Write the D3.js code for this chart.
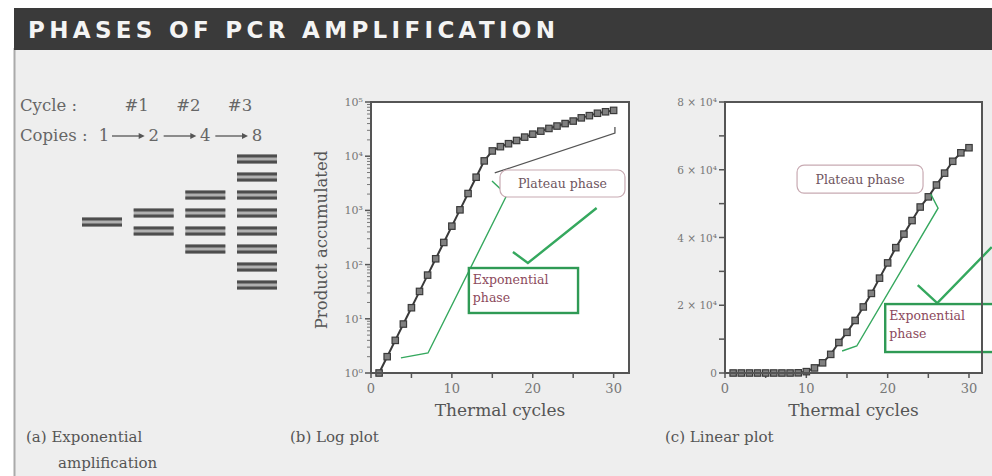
<!DOCTYPE html>
<meta charset="utf-8">
<style>
body { margin: 0; background: #fff; }
svg { display: block; }
.serif { font-family: "DejaVu Serif", serif; }
.tick-lab { font-family: "DejaVu Serif", serif; fill: #777; }
</style>
<svg width="992" height="476"></svg>
<script src="https://d3js.org/d3.v7.min.js"></script>
<script>
// values
var cycles = d3.range(1, 31);
var logProduct = [1, 2, 4, 8, 16, 32, 64, 128, 256, 512, 1024, 2048, 4096, 8192,
  12500, 15000, 17000, 19500, 22500, 25500, 29000, 32500, 36000, 40000,
  44500, 51000, 56000, 62000, 66000, 70000];
var linProduct = [0, 0, 0, 0, 0, 0, 0, 0, 50, 400, 1500, 3000, 5500, 9000, 12000,
  15500, 19500, 23500, 28000, 32500, 37000, 41000, 45000, 49000, 52000,
  55500, 59000, 62500, 65000, 66500];
var copyCycles = [0, 1, 2, 3];
var copies = [1, 2, 4, 8];
var xTicks = [0, 5, 10, 15, 20, 25, 30];
var xLabels = [0, 10, 20, 30];
var logTicks = [1, 10, 100, 1000, 10000, 100000];
var supDigits = ["\u2070", "\u00b9", "\u00b2", "\u00b3", "\u2074", "\u2075"];
var linTicks = [0, 10000, 20000, 30000, 40000, 50000, 60000, 70000, 80000];
var linLabels = ["0", "2 \u00d7 10\u2074", "4 \u00d7 10\u2074", "6 \u00d7 10\u2074", "8 \u00d7 10\u2074"];

// annotations, in data units of each plot
var logGreenLine = [[3.7, 1.9], [7.05, 2.34], [16.8, 1923], [14.96, 3487]];
var logCheck = [[17.55, 171], [19.4, 107], [27.9, 1107]];
var logDark = [[15.3, 4900], [30.16, 26800], [30.16, 34600]];
var logPlateauBox = [15.95, 31.4, 5560, 1767];
var logExpoBox = [12.1, 25.6, 86.5, 12.8];
var linGreenLine = [[14.4, 6490], [16.2, 7960], [26.2, 48670], [25.3, 52800]];
var linCheck = [[23.7, 25960], [26.1, 20650], [32.8, 37170]];
var linPlateauBox = [8.86, 24.35, 61360, 53100];
var linExpoBox = [19.7, 33.3, 20350, 6190];

var svg = d3.select("svg");
var green = "#35a85e", labelInk = "#8c4a5c", frameInk = "#555";

// background panel and header
svg.append("rect").attr("x", 14).attr("y", 48).attr("width", 978).attr("height", 428).attr("fill", "#eeeeee");
svg.append("line").attr("x1", 14.5).attr("x2", 14.5).attr("y1", 48).attr("y2", 476)
    .attr("stroke", "#aaa").attr("stroke-width", 2);
svg.append("rect").attr("x", 14).attr("y", 8).attr("width", 978).attr("height", 42).attr("fill", "#3a3a3a");
svg.append("text").attr("x", 28).attr("y", 38)
    .attr("font-family", "DejaVu Sans, sans-serif").attr("font-weight", "bold")
    .attr("font-size", 23).attr("fill", "#f4f4f4").attr("textLength", 527).attr("lengthAdjust", "spacing")
    .text("PHASES OF PCR AMPLIFICATION");

// (a) exponential amplification diagram
var col = d3.scalePoint().domain(copyCycles).range([102, 257]);
var g0 = svg.append("g").attr("class", "serif").attr("fill", "#666").attr("font-size", 16.5);
g0.append("text").attr("x", 20).attr("y", 111).text("Cycle :");
g0.append("text").attr("x", 20).attr("y", 141).text("Copies :");
g0.selectAll(".cyc").data(copyCycles.slice(1)).enter().append("text")
    .attr("x", function(d) { return col(d) - 17; }).attr("y", 111)
    .attr("text-anchor", "middle").text(function(d) { return "#" + d; });
g0.selectAll(".cp").data(copies).enter().append("text")
    .attr("x", function(d, i) { return col(i) + (i === 0 ? 2 : 0); }).attr("y", 141)
    .attr("text-anchor", "middle").text(function(d) { return d; });
var arrows = g0.selectAll(".arr").data(copyCycles.slice(1)).enter().append("g");
arrows.append("line")
    .attr("x1", function(d) { return col(d - 1) + 10; }).attr("x2", function(d) { return col(d) - 12; })
    .attr("y1", 136).attr("y2", 136).attr("stroke", "#555").attr("stroke-width", 1.3);
arrows.append("path")
    .attr("d", function(d) { var x = col(d) - 9; return "M" + x + ",136L" + (x - 6) + ",133L" + (x - 6) + ",139Z"; })
    .attr("fill", "#555");

var bands = [];
copies.forEach(function(n, i) {
  for (var k = 0; k < n; k++) bands.push({ c: i, y: 222 + (k - (n - 1) / 2) * 18 });
});
var bg = svg.append("g").selectAll("g").data(bands).enter().append("g")
    .attr("transform", function(d) { return "translate(" + (col(d.c) - 20) + "," + (d.y - 4.5) + ")"; });
bg.append("rect").attr("width", 40).attr("height", 9).attr("fill", "#b0b0b0");
bg.append("rect").attr("width", 40).attr("height", 3).attr("fill", "#4d4d4d");
bg.append("rect").attr("y", 6).attr("width", 40).attr("height", 3).attr("fill", "#4d4d4d");

// shared helpers
function frame(g, x, y) {
  g.append("rect").attr("x", x.range()[0]).attr("y", y.range()[1])
      .attr("width", x.range()[1] - x.range()[0]).attr("height", y.range()[0] - y.range()[1])
      .attr("fill", "#fff");
}
function frameLine(g, x, y) {
  g.append("rect").attr("x", x.range()[0]).attr("y", y.range()[1])
      .attr("width", x.range()[1] - x.range()[0]).attr("height", y.range()[0] - y.range()[1])
      .attr("fill", "none").attr("stroke", frameInk).attr("stroke-width", 2);
}
function xAxis(g, x, y) {
  var y0 = y.range()[0];
  g.selectAll(".xt").data(xTicks).enter().append("line")
      .attr("x1", x).attr("x2", x).attr("y1", y0).attr("y2", y0 + 5)
      .attr("stroke", frameInk).attr("stroke-width", 1.5);
  g.selectAll(".xl").data(xLabels).enter().append("text").attr("class", "tick-lab")
      .attr("x", x).attr("y", y0 + 20).attr("font-size", 13).attr("text-anchor", "middle")
      .text(function(d) { return d; });
  g.append("text").attr("class", "serif").attr("fill", "#555").attr("font-size", 17)
      .attr("x", (x.range()[0] + x.range()[1]) / 2).attr("y", y0 + 43).attr("text-anchor", "middle")
      .text("Thermal cycles");
}
function series(g, x, y, vals) {
  var pts = cycles.map(function(c, i) { return [c, vals[i]]; });
  g.append("path").datum(pts)
      .attr("d", d3.line().x(function(d) { return x(d[0]); }).y(function(d) { return y(d[1]); }))
      .attr("fill", "none").attr("stroke", "#3a3a3a").attr("stroke-width", 2);
  g.selectAll(".pt").data(pts).enter().append("rect")
      .attr("x", function(d) { return x(d[0]) - 3.2; }).attr("y", function(d) { return y(d[1]) - 3.2; })
      .attr("width", 6.4).attr("height", 6.4).attr("fill", "#808080").attr("stroke", "#3a3a3a").attr("stroke-width", 1.2);
}
function annotate(g, x, y, line, check, dark, pBox, eBox) {
  var ln = d3.line().x(function(d) { return x(d[0]); }).y(function(d) { return y(d[1]); });
  g.append("path").attr("d", ln(line)).attr("fill", "none").attr("stroke", green).attr("stroke-width", 1.4);
  g.append("path").attr("d", ln(check)).attr("fill", "none").attr("stroke", green).attr("stroke-width", 2.4);
  if (dark) g.append("path").attr("d", ln(dark)).attr("fill", "none").attr("stroke", "#555").attr("stroke-width", 1.3);
  var px0 = x(pBox[0]), px1 = x(pBox[1]), py0 = y(pBox[2]), py1 = y(pBox[3]);
  g.append("rect").attr("x", px0).attr("y", py0).attr("width", px1 - px0).attr("height", py1 - py0)
      .attr("rx", 7).attr("fill", "#fff").attr("stroke", "#c8aab2").attr("stroke-width", 1.2);
  g.append("text").attr("class", "serif").attr("fill", "#6e5560").attr("font-size", 12.5)
      .attr("x", (px0 + px1) / 2).attr("y", (py0 + py1) / 2 + 4.5).attr("text-anchor", "middle").text("Plateau phase");
  var ex0 = x(eBox[0]), ex1 = x(eBox[1]), ey0 = y(eBox[2]), ey1 = y(eBox[3]);
  g.append("rect").attr("x", ex0).attr("y", ey0).attr("width", ex1 - ex0).attr("height", ey1 - ey0)
      .attr("fill", "#fff").attr("stroke", "#2f9a55").attr("stroke-width", 2.4);
  var t = g.append("text").attr("class", "serif").attr("fill", labelInk).attr("font-size", 12.5);
  t.append("tspan").attr("x", ex0 + 4).attr("y", ey0 + 16).text("Exponential");
  t.append("tspan").attr("x", ex0 + 4).attr("y", ey0 + 34).text("phase");
}

// (b) log plot
var xb = d3.scaleLinear().domain([0, 31.9]).range([371, 629]);
var yb = d3.scaleLog().domain([1, 1e5]).range([373, 102]);
var gb = svg.append("g");
frame(gb, xb, yb);
var minor = [];
logTicks.slice(0, -1).forEach(function(t) { for (var k = 2; k < 10; k++) minor.push(t * k); });
gb.selectAll(".mn").data(minor).enter().append("line")
    .attr("x1", 367).attr("x2", 371).attr("y1", yb).attr("y2", yb).attr("stroke", "#777");
gb.selectAll(".mj").data(logTicks).enter().append("line")
    .attr("x1", 365).attr("x2", 371).attr("y1", yb).attr("y2", yb).attr("stroke", "#555").attr("stroke-width", 1.5);
gb.selectAll(".yl").data(logTicks).enter().append("text").attr("class", "tick-lab")
    .attr("x", 363).attr("y", function(d) { return yb(d) + 4; }).attr("font-size", 11).attr("text-anchor", "end")
    .text(function(d, i) { return "10" + supDigits[i]; });
gb.append("text").attr("class", "serif").attr("fill", "#555").attr("font-size", 16.5)
    .attr("transform", "translate(327,240) rotate(-90)").attr("text-anchor", "middle").text("Product accumulated");
xAxis(gb, xb, yb);
annotate(gb, xb, yb, logGreenLine, logCheck, logDark, logPlateauBox, logExpoBox);
series(gb, xb, yb, logProduct);
frameLine(gb, xb, yb);

// (c) linear plot
var xc = d3.scaleLinear().domain([0, 31.6]).range([725, 982]);
var yc = d3.scaleLinear().domain([0, 80000]).range([373, 102]);
var gc = svg.append("g");
frame(gc, xc, yc);
gc.selectAll(".yt").data(linTicks).enter().append("line")
    .attr("x1", 719).attr("x2", 725).attr("y1", yc).attr("y2", yc).attr("stroke", "#555").attr("stroke-width", 1.5);
gc.selectAll(".yl").data(linLabels).enter().append("text").attr("class", "tick-lab")
    .attr("x", 717).attr("y", function(d, i) { return yc(i * 20000) + 4; }).attr("font-size", 10.5)
    .attr("text-anchor", "end").text(function(d) { return d; });
xAxis(gc, xc, yc);
series(gc, xc, yc, linProduct);
annotate(gc, xc, yc, linGreenLine, linCheck, null, linPlateauBox, linExpoBox);
frameLine(gc, xc, yc);

// captions
var cap = svg.append("g").attr("class", "serif").attr("fill", "#555").attr("font-size", 15);
cap.append("text").attr("x", 26).attr("y", 442).text("(a) Exponential");
cap.append("text").attr("x", 58).attr("y", 468).text("amplification");
cap.append("text").attr("x", 290).attr("y", 442).text("(b) Log plot");
cap.append("text").attr("x", 665).attr("y", 442).text("(c) Linear plot");
</script>
